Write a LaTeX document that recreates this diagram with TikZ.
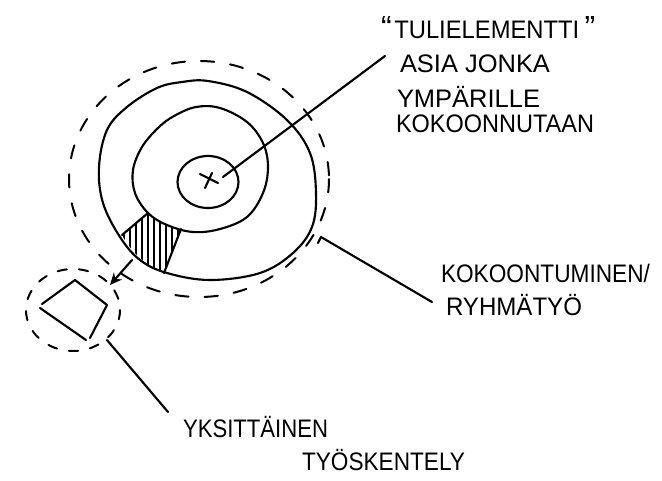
\documentclass[tikz,border=0pt]{standalone}
\usepackage{fontspec}
\setmainfont{Liberation Sans}
\usetikzlibrary{arrows.meta,calc,shapes.geometric}
\newdimen\pxu \pxu=0.75pt
\newcommand\hw[2]{\resizebox{#1\pxu}{\height}{\fontsize{19}{22}\selectfont #2}}
\tikzset{
  ink/.style={line width=1.6pt, line cap=round, line join=round},
  thinink/.style={line width=0.9pt, line cap=round},
  dashring/.style={line width=1.5pt, line cap=round, dash pattern=on 10pt off 12pt},
  lbl/.style={anchor=base west, inner sep=0pt, outer sep=0pt},
}
\begin{document}
\begin{tikzpicture}[x=0.75pt,y=-0.75pt]
\useasboundingbox[fill=white] (0,0) rectangle (662,480);

% outer dashed ring
\draw[dashring] (199,179) ellipse [x radius=130, y radius=118];

% outer ring
\draw[ink] plot[smooth cycle, tension=0.6] coordinates {
 (208,81) (247,92) (287,120) (310,153) (316,193) (312,227) (293,253)
 (260,273) (210,280) (167,273) (140,260) (120,237) (103,203) (99,167)
 (107,130) (127,107) (157,88) (182,82)};

% middle ring
\draw[ink] plot[smooth cycle, tension=0.6] coordinates {
 (196,107) (220,108) (247,122) (263,143) (268,167) (263,193) (247,217)
 (220,229) (193,232) (167,225) (148,213) (135,193) (133,170) (142,147)
 (158,128) (174,116)};

% inner circle
\node[draw, ink, ellipse, minimum width=61\pxu, minimum height=52\pxu, inner sep=0pt] (core) at (208,182) {};
\draw[ink] (200,174) -- (218,183);
\draw[ink] (212,173) -- (205,188);

% hatched wedge
\coordinate (w1) at (122,235);
\coordinate (w2) at (148,213);
\coordinate (w3) at (181,229);
\coordinate (w4) at (164,273);
\begin{scope}
  \clip (w1) -- (w2) .. controls (158,221) and (170,227) .. (w3) -- (w4)
        .. controls (150,268) and (132,254) .. (w1) -- cycle;
  \foreach \x in {124,130,...,184} \draw[thinink] (\x,205) -- (\x,280);
\end{scope}
\draw[ink] (w1) -- (w2);
\draw[ink] (w3) -- (w4);

% arrow to single work
\coordinate (a1) at (132,260);
\coordinate (a2) at (110,285);
\draw[ink, -{Stealth[length=9pt,width=8pt]}] (a1) -- (a2);

% small quad
\coordinate (q1) at (42,304);
\coordinate (q2) at (75,280);
\coordinate (q3) at (107,305);
\coordinate (q4) at (90,338);
\draw[ink] (q1) -- (q2) -- (q3) -- (q4);
\draw[ink] (40,308) -- (86,340);
\draw[dashring, dash pattern=on 7pt off 9pt] (73,310) ellipse [x radius=47, y radius=41];

% labels
\node[lbl] (tuli) at (381,38) {{\fontsize{24}{24}\selectfont\char"201C}\hspace{2pt}\hw{185}{TULIELEMENTTI}\hspace{4pt}{\fontsize{24}{24}\selectfont\char"201D}};
\node[lbl] (asia) at (400,72) {\hw{150}{ASIA JONKA}};
\node[lbl] (ymp) at (397,107) {\hw{143}{YMPÄRILLE}};
\node[lbl] (kok) at (396,132) {\hw{198}{KOKOONNUTAAN}};
\node[lbl] (koko) at (441,282) {\hw{209}{KOKOONTUMINEN/}};
\node[lbl] (ryhma) at (446,315) {\hw{136}{RYHMÄTYÖ}};
\node[lbl] (yks) at (183,437) {\hw{145}{YKSITTÄINEN}};
\node[lbl] (tyo) at (302,470) {\hw{163}{TYÖSKENTELY}};

% connectors
\coordinate (c0) at (223,177);
\coordinate (c1) at (385,56);
\draw[ink] (c0) -- (c1);
\coordinate (r0) at (318,243);
\coordinate (r1) at (321,237);
\coordinate (r2) at (432,302);
\draw[ink] (r0) -- (r1) -- (r2);
\coordinate (s1) at (107,340);
\coordinate (s2) at (168,412);
\draw[ink] (s1) -- (s2);
\end{tikzpicture}
\end{document}
